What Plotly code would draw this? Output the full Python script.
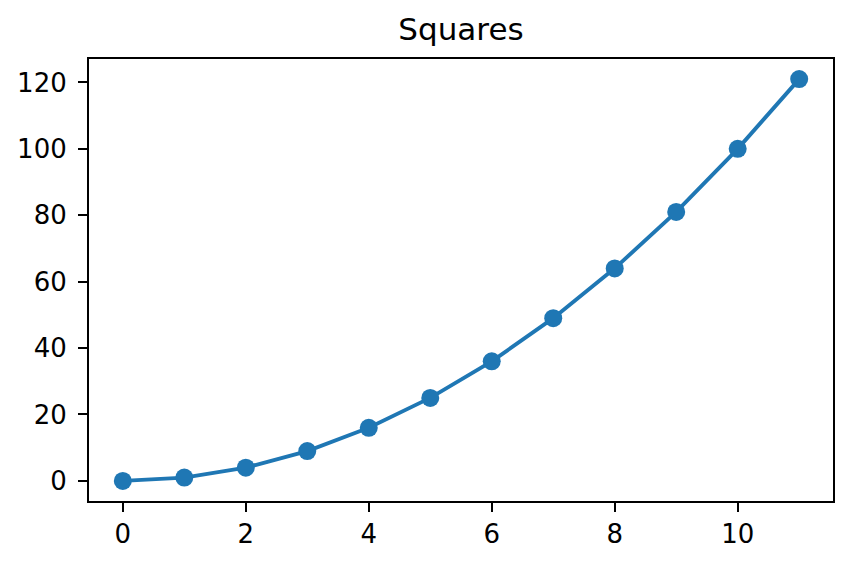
import plotly.graph_objects as go

x_vals = [0, 1, 2, 3, 4, 5, 6, 7, 8, 9, 10, 11]
y_vals = [0, 1, 4, 9, 16, 25, 36, 49, 64, 81, 100, 121]
x_ticks = [0, 2, 4, 6, 8, 10]
y_ticks = [0, 20, 40, 60, 80, 100, 120]
title_text = "Squares"

# page body has an 8px margin; compensate so the plot sits where the reference has it
W, H = 843, 558
fig = go.Figure()
fig.add_trace(go.Scatter(
    x=x_vals, y=y_vals, mode="lines+markers",
    line=dict(color="#1f77b4", width=3.9),
    marker=dict(color="#1f77b4", size=18),
    showlegend=False,
))

axis_common = dict(
    showgrid=False, zeroline=False, showline=True, linecolor="black", linewidth=2.1,
    mirror=True, ticks="outside", ticklen=9, tickwidth=2.1, tickcolor="black",
    tickfont=dict(family="DejaVu Sans", size=26, color="black"), automargin=False,
)
fig.update_xaxes(range=[-0.55, 11.55], tickvals=x_ticks, ticktext=[str(t) for t in x_ticks], **axis_common)
fig.update_yaxes(range=[-6.05, 127.05], tickvals=y_ticks, ticktext=[str(t) for t in y_ticks],
                 ticklabelstandoff=6, **axis_common)

fig.update_layout(
    width=W, height=H,
    margin=dict(l=81, r=18, t=51, b=65),
    paper_bgcolor="white", plot_bgcolor="white",
    title=dict(text=title_text, x=453 / W, xanchor="center", y=1 - 21 / H, yanchor="middle",
               font=dict(family="DejaVu Sans", size=31, color="black")),
)

fig.write_html("out.html")
